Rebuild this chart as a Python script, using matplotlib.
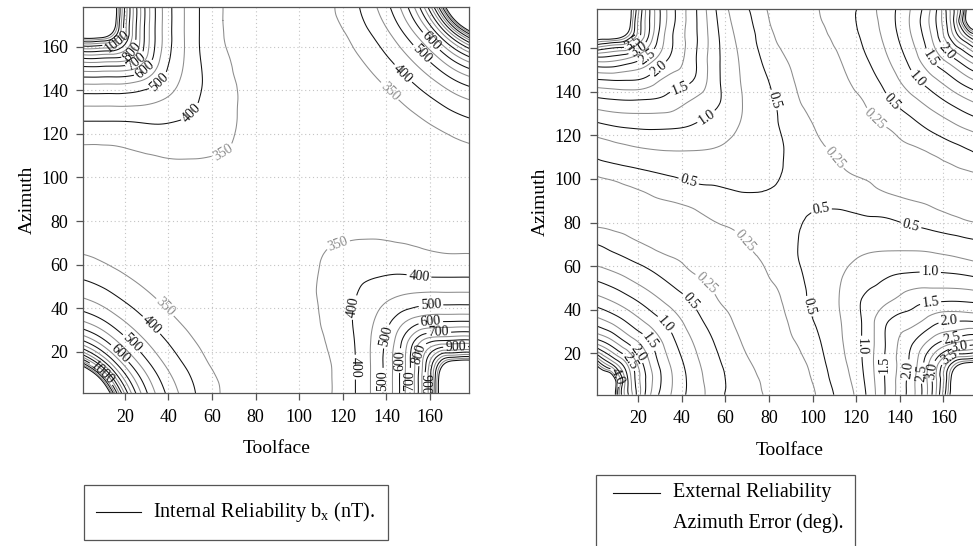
"""Reliability contour maps over toolface / azimuth (two panels side by side)."""

import numpy as np
import matplotlib

matplotlib.use("Agg")
import matplotlib.pyplot as plt
from matplotlib.lines import Line2D
from matplotlib.patches import Rectangle
from matplotlib.tri import Triangulation, UniformTriRefiner

plt.rcParams["font.family"] = ["Liberation Serif", "DejaVu Serif"]
plt.rcParams["mathtext.fontset"] = "custom"
plt.rcParams["mathtext.rm"] = "Liberation Serif"

# grid nodes in degrees (same for toolface and azimuth)
toolface = [1, 8, 15, 25, 35, 45, 55, 65, 75, 90, 105, 115, 125, 135, 145, 155, 165, 172, 179]
azimuth = [1, 8, 15, 25, 35, 45, 55, 65, 75, 90, 105, 115, 125, 135, 145, 155, 165, 172, 179]

# internal reliability bx (nT), rows for azimuth 1..75; upper half mirrors through (90, 90)
bx_lower = [
    [9000, 1900, 1085, 702, 538, 448, 386, 346, 328, 322, 337, 350, 395, 469, 583, 812, 1290, 2500, 9000],
    [1900, 1231, 880, 635, 507, 430, 378, 342, 327, 322, 337, 350, 395, 469, 583, 812, 1281, 2188, 2500],
    [1085, 880, 716, 563, 469, 407, 363, 331, 324, 320, 337, 351, 395, 469, 582, 805, 1131, 1281, 1290],
    [702, 635, 563, 480, 420, 375, 342, 325, 320, 318, 340, 356, 398, 466, 568, 735, 805, 812, 812],
    [538, 507, 469, 420, 379, 347, 328, 320, 318, 316, 342, 362, 403, 452, 514, 568, 582, 583, 583],
    [448, 430, 407, 375, 347, 330, 322, 318, 316, 315, 343, 365, 396, 430, 452, 466, 469, 469, 469],
    [390, 378, 363, 342, 328, 322, 318, 316, 315, 315, 342, 364, 385, 396, 403, 398, 395, 395, 395],
    [349, 342, 333, 325, 320, 317, 316, 315, 315, 316, 341, 354, 364, 365, 362, 356, 351, 350, 350],
    [330, 328, 325, 320, 318, 316, 315, 315, 316, 318, 336, 341, 342, 343, 342, 340, 337, 337, 337],
]
bx_mid = [326, 326, 325, 323, 321, 319, 318, 318, 319, 320, 319, 318, 318, 319, 321, 323, 325, 326, 326]

# external reliability, azimuth error (deg)
az_err_lower = [
    [37.8, 5.69, 3.07, 1.81, 1.25, 0.90, 0.63, 0.40, 0.31, 0.008, 0.37, 0.625, 1.03, 1.60, 2.12, 3.03, 5.04, 9.58, 37.8],
    [7.89, 5.04, 3.05, 1.87, 1.28, 0.90, 0.61, 0.42, 0.26, 0.063, 0.422, 0.681, 1.07, 1.60, 2.11, 3.03, 5.00, 8.29, 8.84],
    [4.39, 3.49, 2.74, 1.78, 1.23, 0.856, 0.575, 0.372, 0.204, 0.116, 0.468, 0.729, 1.10, 1.60, 2.048, 2.95, 4.21, 4.76, 4.80],
    [2.66, 2.34, 1.98, 1.536, 1.085, 0.753, 0.494, 0.30, 0.121, 0.21, 0.53, 0.776, 1.10, 1.58, 1.953, 2.379, 2.72, 2.85, 2.88],
    [1.843, 1.671, 1.461, 1.167, 0.894, 0.613, 0.392, 0.209, 0.034, 0.29, 0.58, 0.796, 1.10, 1.50, 1.640, 1.884, 1.985, 1.981, 1.948],
    [1.323, 1.205, 1.063, 0.853, 0.647, 0.462, 0.275, 0.107, 0.057, 0.36, 0.61, 0.82, 1.05, 1.204, 1.374, 1.437, 1.447, 1.428, 1.386],
    [0.932, 0.841, 0.737, 0.581, 0.432, 0.287, 0.141, 0.007, 0.153, 0.42, 0.62, 0.77, 0.894, 1.001, 1.060, 1.075, 1.057, 1.021, 0.959],
    [0.612, 0.541, 0.4615, 0.348, 0.232, 0.113, 0.007, 0.126, 0.26, 0.46, 0.62, 0.70, 0.76, 0.790, 0.799, 0.781, 0.735, 0.689, 0.631],
    [0.351, 0.291, 0.2275, 0.1324, 0.0365, 0.0593, 0.1527, 0.2413, 0.36, 0.47, 0.60, 0.62, 0.62, 0.61, 0.573, 0.534, 0.477, 0.4287, 0.3754],
]
az_err_mid = [0.008, 0.0635, 0.1178, 0.191, 0.258, 0.33, 0.39, 0.435, 0.465, 0.48,
              0.465, 0.435, 0.39, 0.33, 0.258, 0.191, 0.1178, 0.0635, 0.008]

bx_levels = list(range(350, 1201, 50))
bx_labelled = [350, 400, 500, 600, 700, 800, 900, 1000]
err_levels = [0.25 * i for i in range(1, 19)]
err_labelled = [0.25, 0.5, 1.0, 1.5, 2.0, 2.5, 3.0, 3.5, 4.0]

# where the inline labels sit (toolface, azimuth)
bx_label_spots = [
    (65, 112), (140, 138), (39, 41), (118.5, 67),
    (50, 130), (147, 147), (31.7, 31.7), (155, 55.6), (126.8, 40), (125, 13),
    (36.3, 143.3), (154.2, 154.7), (23.4, 24.1), (160.4, 41.6), (139.8, 27.1), (138.5, 7),
    (28.7, 150), (159.6, 161.5), (145.1, 16), (160.4, 32.5),
    (24.2, 154.6), (151.5, 7), (164, 28.7),
    (22.6, 158.3), (17.3, 18.8), (155.5, 19),
    (171.8, 21), (158.4, 5),
    (16.5, 162.3), (10.4, 11.1),
]
err_label_spots = [
    (51.3, 52.2), (68.2, 71.3), (109.7, 109.5), (128.9, 127.8),
    (42.9, 98.1), (80, 135.5), (43.7, 43.8), (104, 85.8), (145, 78.2), (98, 41.5), (135.7, 134.8),
    (51.7, 127.9), (33, 33.9), (154, 58.3), (120, 23.1), (145.7, 144),
    (39.4, 140.9), (25.3, 25.4), (154, 43.8), (132.7, 14.7), (152.6, 154.6),
    (31.7, 147.7), (20, 20), (162.5, 36), (143.4, 12.4), (159.4, 156.9),
    (25.6, 153.9), (16.5, 16.5), (163.3, 29.3), (149.5, 11),
    (21.5, 157), (167, 24.7), (154.9, 11.9),
    (18, 162.3), (10, 9), (163.3, 17),
]

DARK = "#111111"
LIGHT = "#8c8c8c"
FRAME = "#555555"


def full_grid(lower_rows, mid_row):
    lower = np.array(lower_rows, dtype=float)
    return np.vstack([lower, np.array(mid_row, dtype=float)[None, :], lower[::-1, ::-1]])


def style_axes(ax):
    ax.set_xlim(1, 178)
    ax.set_ylim(1, 178)
    ticks = list(range(20, 161, 20))
    ax.set_xticks(ticks)
    ax.set_yticks(ticks)
    ax.grid(True, linestyle=(0, (1, 2.5)), color="#c4c4c4", linewidth=0.8)
    ax.set_axisbelow(True)
    for sp in ax.spines.values():
        sp.set_color(FRAME)
        sp.set_linewidth(0.9)
    ax.tick_params(direction="out", length=5, width=0.9, color=FRAME,
                   labelsize=13, pad=6)
    ax.set_xlabel("Toolface", fontsize=14)
    ax.set_ylabel("Azimuth", fontsize=14)
    ax.xaxis.set_label_coords(0.5, -0.122)
    ax.yaxis.set_label_coords(-0.124, 0.5)


def draw_contours(ax, z, levels, is_dark, labelled, fmt_fn, spots, transform):
    x, y = np.meshgrid(toolface, azimuth)
    tri = Triangulation(x.ravel(), y.ravel())
    fine_tri, fine_z = UniformTriRefiner(tri).refine_field(transform(z).ravel(), subdiv=3)

    plain = [lv for lv in levels if not any(abs(lv - q) < 1e-9 for q in labelled)]
    named = [lv for lv in levels if any(abs(lv - q) < 1e-9 for q in labelled)]

    def colours(group):
        return [DARK if is_dark(lv) else LIGHT for lv in group]

    ax.tricontour(fine_tri, fine_z, levels=[transform(float(v)) for v in plain],
                  colors=colours(plain), linewidths=0.75)
    cs = ax.tricontour(fine_tri, fine_z, levels=[transform(float(v)) for v in named],
                       colors=colours(named), linewidths=0.75)
    fmt = {cs.levels[i]: fmt_fn(lv) for i, lv in enumerate(named)}
    ax.clabel(cs, fmt=fmt, inline=True, inline_spacing=2, fontsize=10, manual=spots)
    return cs


fig = plt.figure(figsize=(9.73, 5.46), dpi=100)

ax1 = fig.add_axes([83.3 / 973, (546 - 393.3) / 546, 386 / 973, 386 / 546])
bx = full_grid(bx_lower, bx_mid)
draw_contours(ax1, bx, bx_levels, lambda v: v % 100 == 0, bx_labelled,
              lambda v: f"{v:g}", bx_label_spots, lambda v: -1.0 / v)
style_axes(ax1)

ax2 = fig.add_axes([596.7 / 973, (546 - 394.7) / 546, 386 / 973, 385.7 / 546])
err = full_grid(az_err_lower, az_err_mid)
draw_contours(ax2, err, err_levels, lambda v: abs(v * 2 - round(v * 2)) < 1e-9,
              err_labelled, lambda v: "0.25" if abs(v - 0.25) < 1e-9 else f"{v:.1f}",
              err_label_spots, lambda v: np.arcsinh(v / 0.5))
style_axes(ax2)


# legend boxes under each panel
def fx(px):
    return px / 973


def fy(py):
    return 1 - py / 546


fig.add_artist(Rectangle((fx(84), fy(540)), fx(388) - fx(84), fy(485) - fy(540),
                         transform=fig.transFigure, fill=False, edgecolor=FRAME, linewidth=0.9))
fig.add_artist(Line2D([fx(96), fx(141)], [fy(512), fy(512)], transform=fig.transFigure,
                      color=DARK, linewidth=0.8))
fig.text(fx(153), fy(512), r"Internal Reliability b$_{\mathregular{x}}$ (nT).",
         fontsize=14.5, va="center", ha="left")

fig.add_artist(Rectangle((fx(596), fy(570)), fx(855) - fx(596), fy(475) - fy(570),
                         transform=fig.transFigure, fill=False, edgecolor=FRAME, linewidth=0.9))
fig.add_artist(Line2D([fx(613), fx(660)], [fy(493), fy(493)], transform=fig.transFigure,
                      color=DARK, linewidth=0.8))
fig.text(fx(673), fy(493), "External Reliability", fontsize=14.5, va="center", ha="left")
fig.text(fx(673), fy(523), "Azimuth Error (deg).", fontsize=14.5, va="center", ha="left")

fig.savefig("out.png", dpi=100)
